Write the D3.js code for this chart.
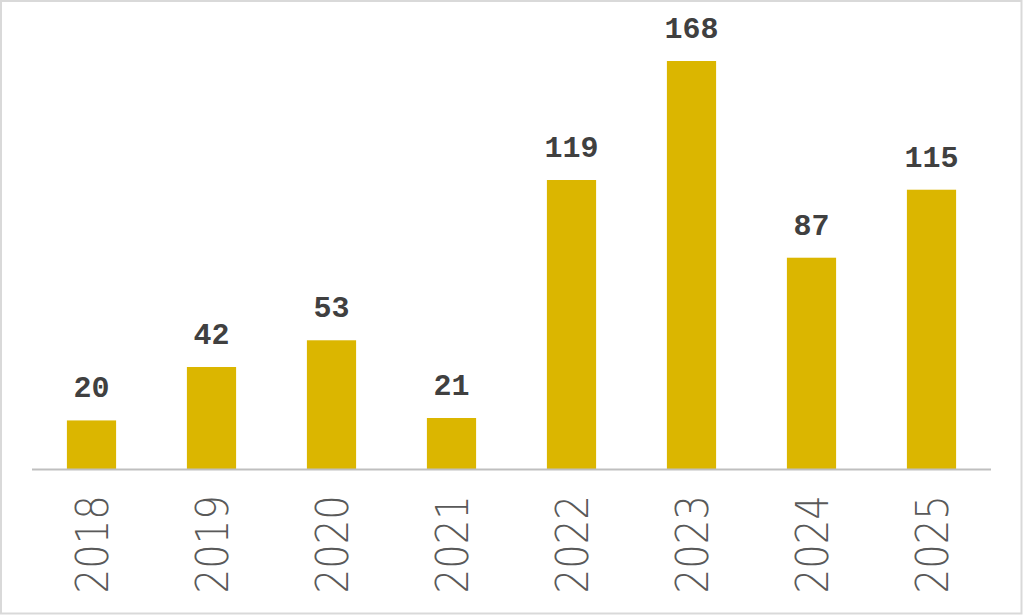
<!DOCTYPE html>
<html><head><meta charset="utf-8">
<script src="https://cdn.jsdelivr.net/npm/d3@7"></script>
<style>html,body{margin:0;padding:0;background:#fff;overflow:hidden}</style>
</head><body>
<script>
const categories = ["2018","2019","2020","2021","2022","2023","2024","2025"];
const values = [20,42,53,21,119,168,87,115];

const W = 1023, H = 615;
const svg = d3.select("body").append("svg").attr("width", W).attr("height", H);
svg.append("rect").attr("x",1).attr("y",1).attr("width",W-2.5).attr("height",H-2.5)
  .attr("fill","#fff").attr("stroke","#d9d9d9").attr("stroke-width",2);

const x = d3.scaleBand().domain(categories).range([31.5, 991.5]).paddingInner(0.59).paddingOuter(0.295);
const y = d3.scaleLinear().domain([0,168]).range([469, 61]);

svg.selectAll("rect.bar").data(values).join("rect").attr("class","bar")
  .attr("x",(d,i)=>x(categories[i])).attr("width",x.bandwidth())
  .attr("y",d=>y(d)).attr("height",d=>y(0)-y(d)).attr("fill","#dbb600");

const axis = svg.append("g").attr("transform",`translate(0,${y(0)})`)
  .call(d3.axisBottom(x).tickSize(0).tickSizeOuter(0));
axis.select(".domain").attr("stroke","#bfbfbf").attr("stroke-width",2).attr("d","M32,0.5H991");
axis.selectAll(".tick text")
  .attr("font-family","'DejaVu Sans', sans-serif").attr("font-weight",200)
  .attr("font-size",45).attr("letter-spacing","0px").attr("fill","#595959")
  .attr("text-anchor","end").attr("dy","0.36em")
  .attr("transform","translate(0,26) rotate(-90) scale(0.86,1)").attr("x",0).attr("y",0);

svg.selectAll("text.val").data(values).join("text").attr("class","val")
  .attr("x",(d,i)=>x(categories[i])+x.bandwidth()/2).attr("y",d=>y(d)-23)
  .attr("text-anchor","middle").attr("font-family","'Liberation Mono', monospace")
  .attr("font-weight","bold").attr("font-size",30).attr("fill","#404040")
  .text(d=>d);
</script>
</body></html>
